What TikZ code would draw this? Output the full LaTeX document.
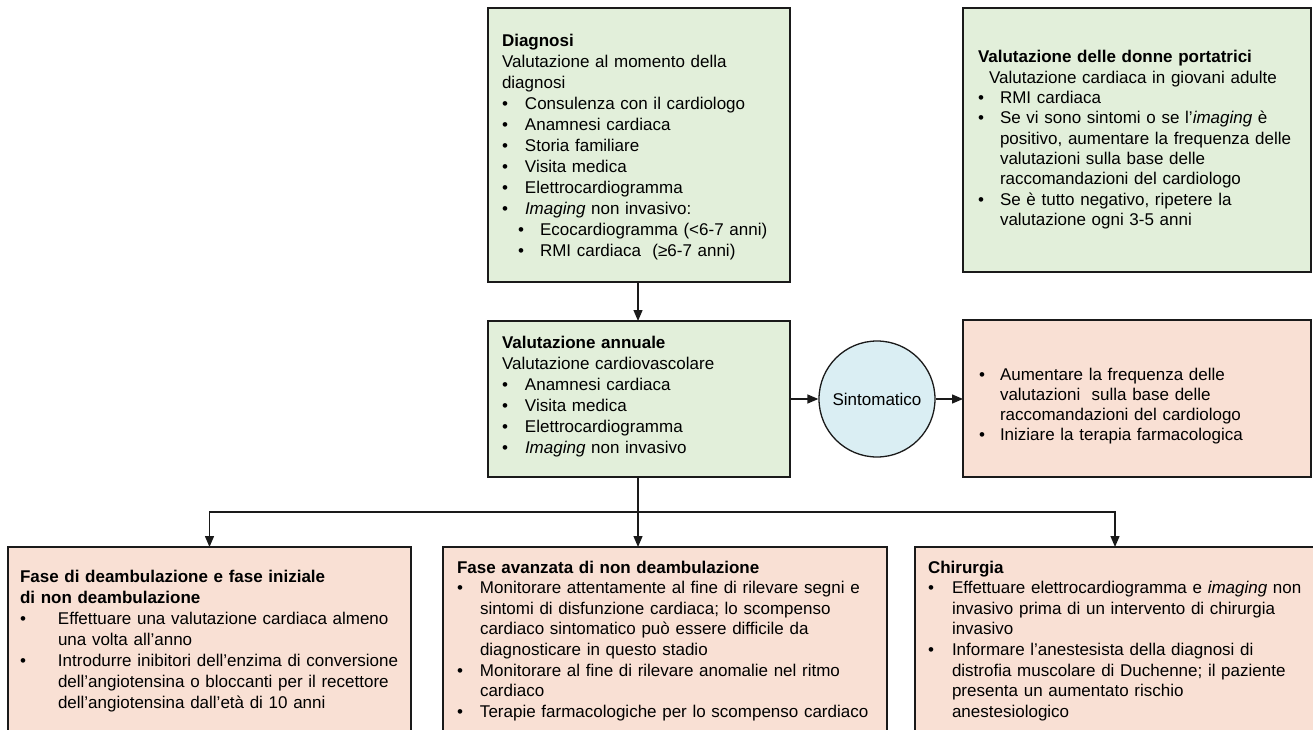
\documentclass[tikz,border=0pt]{standalone}
\usepackage{fontspec}
\setmainfont{Liberation Sans}
\usetikzlibrary{arrows.meta}
\definecolor{gfill}{HTML}{E2EFDA}
\definecolor{pfill}{HTML}{F9E0D4}
\definecolor{bfill}{HTML}{DAEEF3}
\definecolor{edgec}{HTML}{1A1A1A}
\newcommand{\bl}[2][22pt]{\makebox[#1][l]{\textbullet}#2}
\newcommand{\cl}[2][22pt]{\hspace*{#1}#2}
\begin{document}
\begin{tikzpicture}[x=1pt,y=-1pt,
  box/.style={draw=edgec, line width=1.3pt, anchor=north west, inner sep=0pt, outer sep=0pt},
  txt/.style={anchor=base west, inner sep=0pt, outer sep=0pt, text width=440pt, align=left, font=\fontsize{17}{21}\selectfont},
  arr/.style={draw=edgec, line width=1.3pt, -{Triangle[length=11pt,width=9pt]}}]
\useasboundingbox (0,0) rectangle (1313,730);
\clip (0,0) rectangle (1313,730);
% boxes
\node[box, fill=gfill, minimum width=302pt, minimum height=274pt] (diag) at (488,8) {};
\node[box, fill=gfill, minimum width=348pt, minimum height=264pt] (donne) at (963,8) {};
\node[box, fill=gfill, minimum width=302pt, minimum height=156pt] (annual) at (488,321) {};
\node[box, fill=pfill, minimum width=348pt, minimum height=157pt] (action) at (963,320) {};
\node[circle, draw=edgec, line width=1.3pt, fill=bfill, minimum size=116pt, inner sep=0pt, font=\fontsize{17}{21}\selectfont] (sint) at (877,399) {Sintomatico};
\node[box, fill=pfill, minimum width=403pt, minimum height=186pt] (left) at (8,547) {};
\node[box, fill=pfill, minimum width=444pt, minimum height=186pt] (mid) at (443,547) {};
\node[box, fill=pfill, minimum width=400pt, minimum height=186pt] (right) at (915,547) {};
% texts
\node[txt] (diagT) at (502,47) {\textbf{Diagnosi}\\
Valutazione al momento della\\
diagnosi\\
\bl[23pt]{Consulenza con il cardiologo}\\
\bl[23pt]{Anamnesi cardiaca}\\
\bl[23pt]{Storia familiare}\\
\bl[23pt]{Visita medica}\\
\bl[23pt]{Elettrocardiogramma}\\
\bl[23pt]{\textit{Imaging} non invasivo:}\\
\hspace*{16pt}\bl{Ecocardiogramma (<6-7 anni)}\\
\hspace*{16pt}\bl{RMI cardiaca\ \ (≥6-7 anni)}};
\node[txt, font=\fontsize{17}{20.3}\selectfont] (donneT) at (978,63) {\textbf{Valutazione delle donne portatrici}\\
\hspace*{11pt}Valutazione cardiaca in giovani adulte\\
\bl{RMI cardiaca}\\
\bl{Se vi sono sintomi o se l’\textit{imaging} è}\\
\cl{positivo, aumentare la frequenza delle}\\
\cl{valutazioni sulla base delle}\\
\cl{raccomandazioni del cardiologo}\\
\bl{Se è tutto negativo, ripetere la}\\
\cl{valutazione ogni 3-5 anni}};
\node[txt] (annualT) at (502,348) {\textbf{Valutazione annuale}\\
Valutazione cardiovascolare\\
\bl[23pt]{Anamnesi cardiaca}\\
\bl[23pt]{Visita medica}\\
\bl[23pt]{Elettrocardiogramma}\\
\bl[23pt]{\textit{Imaging} non invasivo}};
\node[txt, font=\fontsize{17}{20}\selectfont] (actionT) at (979,380) {\bl[21pt]{Aumentare la frequenza delle}\\
\cl[21pt]{valutazioni\ \ sulla base delle}\\
\cl[21pt]{raccomandazioni del cardiologo}\\
\bl[21pt]{Iniziare la terapia farmacologica}};
\node[txt] (leftT) at (20,582) {\textbf{Fase di deambulazione e fase iniziale}\\
\textbf{di non deambulazione}\\
\bl[38pt]{Effettuare una valutazione cardiaca almeno}\\
\cl[38pt]{una volta all’anno}\\
\bl[38pt]{Introdurre inibitori dell’enzima di conversione}\\
\cl[38pt]{dell’angiotensina o bloccanti per il recettore}\\
\cl[38pt]{dell’angiotensina dall’età di 10 anni}};
\node[txt, font=\fontsize{17}{20.6}\selectfont] (midT) at (457,573) {\textbf{Fase avanzata di non deambulazione}\\
\bl[23pt]{Monitorare attentamente al fine di rilevare segni e}\\
\cl[23pt]{sintomi di disfunzione cardiaca; lo scompenso}\\
\cl[23pt]{cardiaco sintomatico può essere difficile da}\\
\cl[23pt]{diagnosticare in questo stadio}\\
\bl[23pt]{Monitorare al fine di rilevare anomalie nel ritmo}\\
\cl[23pt]{cardiaco}\\
\bl[23pt]{Terapie farmacologiche per lo scompenso cardiaco}};
\node[txt, font=\fontsize{17}{20.6}\selectfont] (rightT) at (928,573) {\textbf{Chirurgia}\\
\bl[24pt]{Effettuare elettrocardiogramma e \textit{imaging} non}\\
\cl[24pt]{invasivo prima di un intervento di chirurgia}\\
\cl[24pt]{invasivo}\\
\bl[24pt]{Informare l’anestesista della diagnosi di}\\
\cl[24pt]{distrofia muscolare di Duchenne; il paziente}\\
\cl[24pt]{presenta un aumentato rischio}\\
\cl[24pt]{anestesiologico}};
% connectors
\coordinate (split) at (638,512);
\draw[arr] (diag.south -| split) -- (annual.north -| split);
\draw[arr] (annual.east) -- (sint.west);
\draw[arr] (sint.east) -- (sint.east -| action.west);
\draw[draw=edgec, line width=1.3pt] (annual.south -| split) -- (split);
\draw[arr] (split) -- (split |- mid.north);
\draw[arr] (split) -| (left.north);
\draw[arr] (split) -| (right.north);
\end{tikzpicture}
\end{document}
